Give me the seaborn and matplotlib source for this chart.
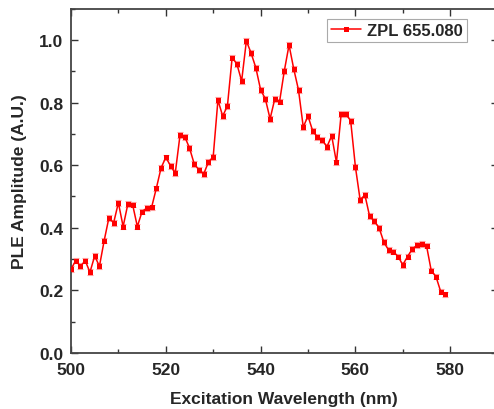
import numpy as np
import pandas as pd
import seaborn as sns
import matplotlib.pyplot as plt
from matplotlib.ticker import MultipleLocator

# excitation wavelength (nm) and PLE amplitude
wavelength = list(range(500, 580))
amplitude = [0.268, 0.295, 0.277, 0.295, 0.258, 0.310, 0.277, 0.359, 0.432, 0.416,
             0.480, 0.404, 0.476, 0.474, 0.404, 0.452, 0.463, 0.465, 0.526, 0.591,
             0.625, 0.598, 0.575, 0.696, 0.691, 0.655, 0.604, 0.585, 0.572, 0.610,
             0.627, 0.808, 0.757, 0.789, 0.944, 0.923, 0.869, 0.997, 0.958, 0.911,
             0.841, 0.812, 0.748, 0.812, 0.803, 0.901, 0.984, 0.907, 0.840, 0.722,
             0.757, 0.709, 0.690, 0.680, 0.659, 0.694, 0.609, 0.764, 0.763, 0.742,
             0.595, 0.489, 0.505, 0.437, 0.421, 0.400, 0.354, 0.329, 0.324, 0.308,
             0.282, 0.308, 0.332, 0.344, 0.348, 0.343, 0.263, 0.244, 0.196, 0.187]
error = [0.009] * len(wavelength)
series_label = "ZPL 655.080"

df = pd.DataFrame({"wl": wavelength, "amp": amplitude, "err": error})

sns.set_style("ticks")
plt.rcParams['font.family'] = ['Liberation Sans', 'DejaVu Sans']
plt.rcParams['font.weight'] = 'bold'

fig = plt.figure(figsize=(4.94, 4.10), dpi=100)
ax = fig.add_axes([0.1437, 0.1366, 0.8636, 0.8398])

# error bars first, then the line on top
ax.errorbar(df.wl, df.amp, yerr=df.err, fmt='none', ecolor='#ff9a9a',
            elinewidth=0.8, capsize=2.5, capthick=0.8, zorder=2)
sns.lineplot(data=df, x="wl", y="amp", ax=ax, color='red', marker='s',
             markersize=3.6, markeredgewidth=0, linewidth=1.1,
             label=series_label, zorder=3)

ax.set_xlim(500, 590)
ax.set_ylim(0, 1.1)
ax.xaxis.set_major_locator(MultipleLocator(20))
ax.xaxis.set_minor_locator(MultipleLocator(10))
ax.yaxis.set_major_locator(MultipleLocator(0.2))
ax.yaxis.set_minor_locator(MultipleLocator(0.1))
ax.yaxis.set_major_formatter(plt.FormatStrFormatter('%.1f'))

ax.tick_params(which='major', direction='in', length=5, width=1, top=True, right=True,
               labelsize=12.5, color='#333333')
ax.tick_params(axis='x', which='major', pad=6.5)
ax.tick_params(axis='y', which='major', pad=5.5)
ax.tick_params(which='minor', direction='in', length=3, width=1, top=True, right=True,
               color='#333333')
for lbl in ax.get_xticklabels() + ax.get_yticklabels():
    lbl.set_fontweight('bold')

for s in ax.spines.values():
    s.set_linewidth(1.3)
    s.set_color('#444444')

ax.set_xlabel("Excitation Wavelength (nm)", fontsize=12.5, fontweight='bold', labelpad=10)
ax.set_ylabel("PLE Amplitude (A.U.)", fontsize=12.5, fontweight='bold', labelpad=9)

leg = ax.legend(loc='upper right', bbox_to_anchor=(0.94, 0.985), fancybox=False,
                framealpha=1, edgecolor='#aaaaaa', prop={'weight': 'bold', 'size': 12},
                handlelength=1.8, borderpad=0.25, handletextpad=0.35,
                borderaxespad=0.3)
leg.get_frame().set_linewidth(0.8)

fig.savefig("out.png", dpi=100)
